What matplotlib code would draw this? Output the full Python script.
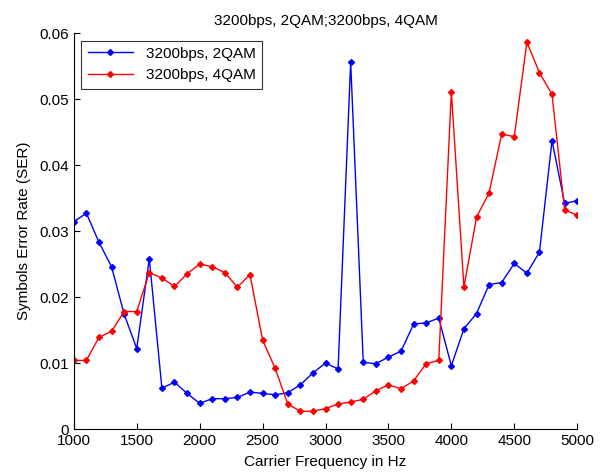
import numpy as np
from matplotlib import pyplot as plt

freq = list(range(1000, 5001, 100))
ser_2qam = [0.0314, 0.0327, 0.0283, 0.0246, 0.0174, 0.0122, 0.0258, 0.0062, 0.0071, 0.0054,
            0.0039, 0.0046, 0.0046, 0.0048, 0.0056, 0.0054, 0.0052, 0.0055, 0.0067, 0.0085,
            0.0100, 0.0091, 0.0556, 0.0101, 0.0099, 0.0109, 0.0118, 0.0159, 0.0161, 0.0168,
            0.0096, 0.0152, 0.0175, 0.0219, 0.0222, 0.0251, 0.0236, 0.0268, 0.0437, 0.0342,
            0.0346]
ser_4qam = [0.0104, 0.0104, 0.0139, 0.0148, 0.0178, 0.0178, 0.0237, 0.0229, 0.0216, 0.0235,
            0.0250, 0.0246, 0.0237, 0.0215, 0.0234, 0.0135, 0.0092, 0.0038, 0.0027, 0.0027,
            0.0031, 0.0038, 0.0041, 0.0045, 0.0058, 0.0067, 0.0061, 0.0073, 0.0099, 0.0104,
            0.0511, 0.0215, 0.0321, 0.0358, 0.0447, 0.0443, 0.0586, 0.0540, 0.0507, 0.0332,
            0.0324]
labels = ["3200bps, 2QAM", "3200bps, 4QAM"]

plt.rcParams["font.family"] = ["Liberation Sans", "DejaVu Sans"]
fig = plt.figure(figsize=(6.0, 4.72), dpi=100)
ax = fig.add_axes([0.123, 0.091, 0.839, 0.839])

ax.plot(freq, ser_2qam, color="b", marker="D", markersize=3, linewidth=1, label=labels[0])
ax.plot(freq, ser_4qam, color="r", marker="D", markersize=3, linewidth=1, label=labels[1])

ax.set_xlim(1000, 5000)
ax.set_ylim(0, 0.06)
ax.set_xticks(np.arange(1000, 5001, 500))
ax.set_yticks(np.arange(0, 0.061, 0.01))
ax.set_yticklabels(["0", "0.01", "0.02", "0.03", "0.04", "0.05", "0.06"])
ax.tick_params(direction="in", labelsize=11, length=4)
ax.spines["top"].set_visible(False)
ax.spines["right"].set_visible(False)

ax.set_title("3200bps, 2QAM;3200bps, 4QAM", fontsize=11)
ax.set_xlabel("Carrier Frequency in Hz", fontsize=11, labelpad=5)
ax.set_ylabel("Symbols Error Rate (SER)", fontsize=11, labelpad=6)
leg = ax.legend(loc="upper left", fontsize=11, fancybox=False, edgecolor="k",
                borderaxespad=0.5, handlelength=3)
leg.get_frame().set_linewidth(0.8)

fig.savefig("out.png", dpi=100)
